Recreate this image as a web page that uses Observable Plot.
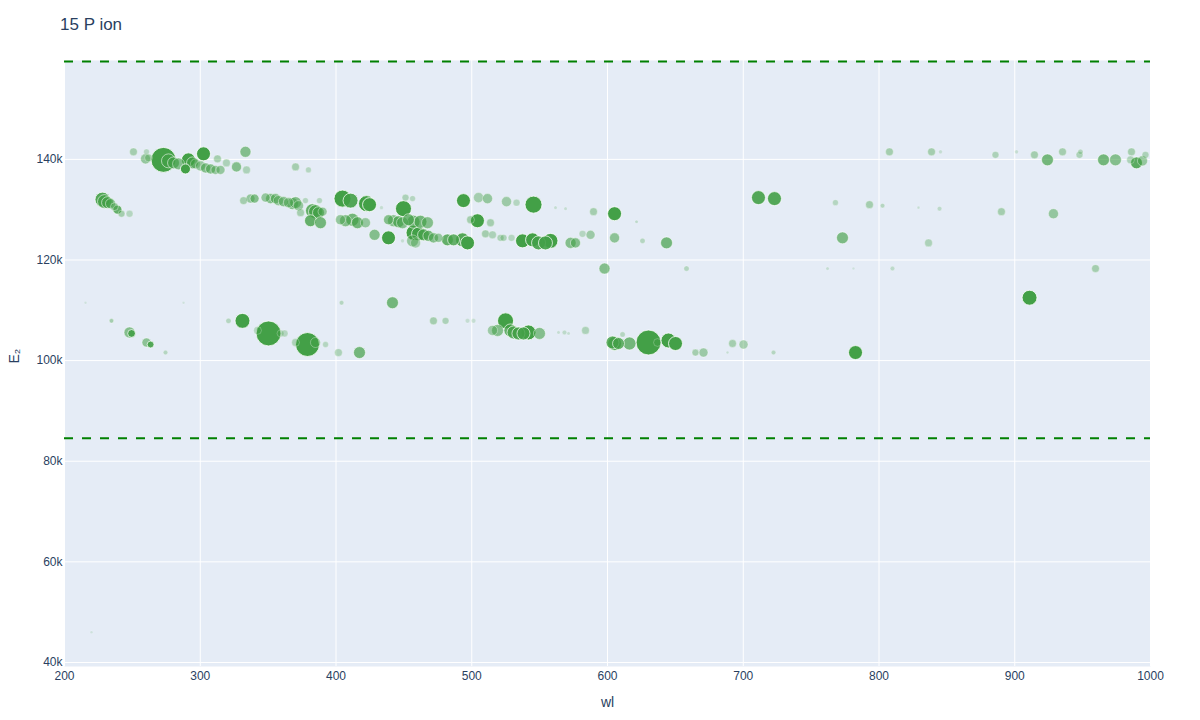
<!DOCTYPE html>
<html>
<head>
<meta charset="utf-8">
<script src="https://cdn.jsdelivr.net/npm/d3@7"></script>
<script src="https://cdn.jsdelivr.net/npm/@observablehq/plot@0.6"></script>
<style>
  html, body { margin: 0; padding: 0; background: #fff; }
  #wrap { position: relative; width: 1200px; height: 720px; font-family: "Liberation Sans", Arial, sans-serif; }
  #title { position: absolute; left: 60px; top: 15px; font-size: 17px; color: #2a3f5f; }
  #chart { position: absolute; left: 0; top: 0; }
</style>
</head>
<body>
<div id="wrap">
  <div id="chart"></div>
  <div id="title">15 P ion</div>
</div>
<script>
// wavelength (nm)
const wl = [
  250.8,260.4,259.7,261.9,272.9,276.6,280.3,284.0,289.1,291.3,294.3,296.5,302.4,300.2,303.9,307.6,311.2,314.9,312.7,319.3,326.7,333.3,334.1,370.2,379.7,
  228.0,229.5,231.7,233.9,239.0,242.0,247.9,236.8,
  331.9,337.0,340.0,348.1,351.8,355.4,357.6,361.3,365.0,368.0,370.2,372.4,377.5,382.7,384.9,387.1,390.1,381.2,388.6,387.8,373.9,
  404.8,410.7,422.5,424.7,433.5,451.2,456.4,449.7,403.3,407.0,412.1,415.8,421.7,438.7,442.3,446.0,449.0,453.4,457.1,462.2,467.4,428.4,438.7,457.1,460.8,464.5,468.1,471.8,475.5,456.4,458.6,449.0,
  493.9,505.0,511.6,525.6,533.0,545.5,561.7,569.1,589.7,605.2,621.4,499.1,504.2,513.8,510.1,515.3,521.2,523.4,529.3,482.1,486.6,493.2,496.9,537.4,544.8,549.2,554.3,558.0,572.8,576.4,581.6,587.5,605.2,625.8,643.5,597.8,658.2,
  807.7,838.7,845.3,885.8,901.3,914.5,924.1,935.2,947.7,948.4,965.4,974.2,986.0,985.3,989.7,994.1,996.3,
  711.2,723.0,767.9,793.0,802.6,829.1,844.6,890.2,928.5,773.1,836.5,762.1,781.2,809.9,959.5,910.9,
  215.5,234.6,247.9,249.4,260.4,263.4,274.4,287.7,320.8,331.1,342.2,350.3,359.1,362.1,370.2,379.0,384.9,392.3,401.8,417.3,404.1,441.6,471.8,480.7,496.9,501.3,
  515.3,519.0,524.9,528.5,530.8,534.4,538.1,541.8,549.9,563.9,568.3,571.3,583.8,603.7,605.2,608.1,616.2,611.1,630.2,636.8,644.9,650.1,664.8,670.7,688.4,692.1,700.2,722.3,782.7,219.9
];
// upper level energy E2 (cm-1)
const e2 = [
  141500,141500,140100,140300,139900,139700,139300,139100,138100,139900,139300,139100,141100,138700,138300,138100,137900,137900,140100,139300,138500,141500,137900,138500,137900,
  132000,131600,131400,131200,130000,129200,129200,130600,
  131800,132200,132200,132400,132200,132200,131800,131600,131400,131200,131400,130800,131800,129800,129600,129400,129600,127800,127400,131800,129400,
  132200,131800,131200,131000,130400,132400,132200,130200,128000,127800,128000,127400,127400,128000,127800,127600,127400,128000,127600,127600,127400,125000,124400,125400,125200,125000,124800,124400,124400,123800,123400,123800,
  131800,132400,132200,131600,131400,131000,130400,130200,129600,129200,127600,128000,127800,127400,125200,125000,124400,124400,124400,124000,124000,124000,123400,123800,124000,123400,123400,123800,123400,123400,125200,125000,124400,123800,123400,118300,118300,
  141500,141500,141500,140900,141500,140900,139900,141500,140900,141500,139900,139900,141500,139900,139300,139700,140900,
  132400,132200,131400,131000,130800,130400,130200,129600,129200,124400,123400,118300,118300,118300,118300,112500,
  111500,107900,105600,105400,103600,103200,101600,111500,107900,107900,106000,105400,105400,105400,103600,103200,103600,103200,101600,101600,111500,111500,107900,107900,107900,107900,
  106000,106000,107900,106000,105600,105400,105400,105600,105400,105600,105600,105400,106000,103600,103400,103400,103400,105200,103600,103600,104000,103400,101600,101600,101600,103400,103200,101600,101600,46000
];
// relative line intensity
const intensity = [
  9,5,15,9,92,29,21,21,15,29,21,15,29,15,15,15,12,12,9,9,15,18,9,9,5,
  33,29,21,15,12,7,7,9,
  9,12,12,12,15,15,15,15,15,21,21,15,5,29,29,21,12,21,21,5,9,
  43,33,38,29,2,7,5,38,15,21,25,21,15,15,21,21,21,21,25,25,21,18,29,33,29,21,18,15,12,21,15,2,
  29,15,15,15,7,43,1.5,1.5,9,29,1.5,9,29,9,9,9,7,7,7,21,21,29,29,29,29,29,29,33,18,15,7,12,15,4,21,18,4,
  9,9,2,7,2,9,21,9,7,4,21,21,9,9,21,15,7,
  29,29,5,9,3,1,3,9,15,21,9,1.5,1,3,9,33,
  1,3,18,9,12,7,3,1,4,33,9,92,7,7,9,85,15,5,9,21,3,21,9,7,3,3,
  15,21,38,25,25,25,25,33,21,1.5,3,1.5,9,25,29,21,25,4,92,9,33,29,7,12,1,9,12,3,29,1
];
// marker visibility (opacity level)
const alpha = [
  .4,.3,.5,.4,1,.7,.7,.6,1,1,.7,.4,1,.5,.6,.6,.5,.5,.4,.35,.6,.6,.35,.4,.3,
  .9,.7,.7,.6,.8,.4,.3,.5,
  .4,.5,.6,.5,.6,.6,.5,.6,.5,.6,.6,.5,.3,.8,.8,.7,.5,.8,.7,.3,.4,
  1,.9,1,1,.2,.35,.3,1,.5,.6,.7,.7,.5,.6,.6,.7,.6,.7,.7,.7,.6,.6,1,1,.9,.8,.7,.6,.5,.5,.4,.2,
  1,.4,.5,.45,.3,1,.2,.2,.4,1,.25,.4,1,.4,.4,.35,.35,.35,.3,.8,.8,.9,1,1,1,.9,.9,1,.6,.6,.3,.45,.55,.3,.7,.6,.3,
  .4,.4,.2,.35,.2,.4,.7,.4,.35,.3,.7,.6,.4,.35,.85,.5,.35,
  .9,.9,.3,.4,.3,.2,.25,.4,.5,.65,.35,.2,.15,.25,.4,1,
  .15,.4,.6,.9,.55,.9,.3,.15,.3,1,.3,1,.3,.3,.35,1,.4,.3,.35,.7,.3,.7,.4,.35,.2,.2,
  .45,.6,1,.8,.8,.85,.85,1,.6,.2,.25,.2,.35,.8,.9,.8,.7,.3,1,.3,1,1,.4,.45,.2,.4,.4,.3,1,.15
];
// ionization limits (cm-1)
const limits = [84580.8, 159451];
const xTicks = [200, 300, 400, 500, 600, 700, 800, 900, 1000];
const yTicks = [40000, 60000, 80000, 100000, 120000, 140000];
const xTitle = "wl";
const yTitle = "E₂";

const points = wl.map((w, i) => ({wl: w, e2: e2[i], intensity: intensity[i], alpha: alpha[i]}));

const ink = "#2a3f5f";
const font = '"Liberation Sans", Arial, sans-serif';
const chart = Plot.plot({
  width: 1200,
  height: 720,
  marginTop: 60,
  marginLeft: 64,
  marginRight: 50,
  marginBottom: 54,
  style: {fontFamily: font, fontSize: "12px", color: ink, background: "white"},
  x: {domain: [200, 1000]},
  y: {domain: [39200, 159650]},
  r: {type: "sqrt", domain: [0, 100], range: [0, 13]},
  opacity: {type: "linear", domain: [0, 1], range: [0, 1]},
  marks: [
    Plot.frame({fill: "#E5ECF6", stroke: null}),
    Plot.gridX(xTicks, {stroke: "white", strokeOpacity: 1, strokeWidth: 1}),
    Plot.gridY(yTicks, {stroke: "white", strokeOpacity: 1, strokeWidth: 1}),
    Plot.axisX({ticks: xTicks, tickSize: 0, tickPadding: 5, fontSize: 12, fill: ink, label: null, tickFormat: d => String(d)}),
    Plot.axisY({ticks: yTicks, tickSize: 0, tickPadding: 2, fontSize: 12, fill: ink, tickFormat: d => (d / 1000) + "k", label: null}),
    Plot.text([xTitle], {frameAnchor: "bottom", dy: 36, lineAnchor: "middle", fontSize: 14, fill: ink, text: d => d}),
    Plot.text([yTitle], {frameAnchor: "left", dx: -50, rotate: -90, lineAnchor: "middle", fontSize: 14, fill: ink, text: d => d}),
    Plot.dot(points, {
      x: "wl", y: "e2", r: "intensity",
      fill: "#43a047", fillOpacity: "alpha", strokeOpacity: "alpha",
      stroke: "white", strokeWidth: 0.8
    }),
    Plot.ruleY(limits, {stroke: "green", strokeWidth: 2, strokeDasharray: "9,9"})
  ]
});
document.getElementById("chart").appendChild(chart);
</script>
</body>
</html>
